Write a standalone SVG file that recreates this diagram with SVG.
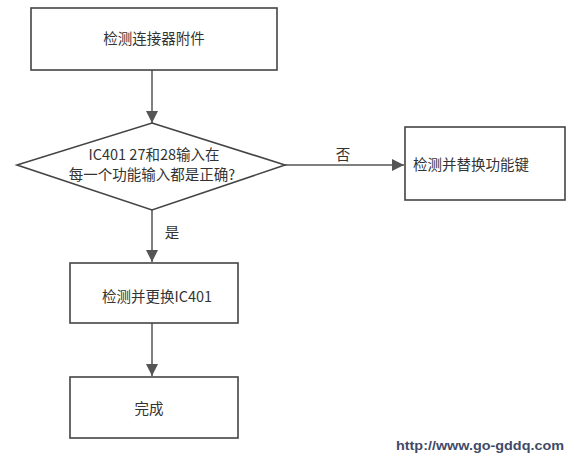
<svg xmlns="http://www.w3.org/2000/svg" width="574" height="460" viewBox="0 0 574 460">
<style>
.box{fill:#fff;stroke:#444;stroke-width:1.6}
.t{font-family:"Noto Sans CJK SC","Liberation Sans",sans-serif;font-size:14.5px;fill:#333}
.c{stroke:#555;stroke-width:1.5;fill:none}
.url{font-family:"Liberation Sans",sans-serif;font-size:13px;font-weight:bold;fill:#3f4a68}
</style>
<defs>
<marker id="ah2" viewBox="0 0 10 10" refX="10" refY="5" markerWidth="8" markerHeight="8" orient="auto"><path d="M0,0 L10,5 L0,10 z" fill="#555"/></marker>
</defs>
<rect width="574" height="460" fill="#fff"/>
<g id="connectors">
<path class="c" d="M152,70 V123" marker-end="url(#ah2)"/>
<path class="c" d="M285,165 H404" marker-end="url(#ah2)"/>
<path class="c" d="M152,210 V262" marker-end="url(#ah2)"/>
<path class="c" d="M152,323 V376" marker-end="url(#ah2)"/>
<text class="t" x="343" y="160" text-anchor="middle">否</text>
<text class="t" x="172" y="238" text-anchor="middle">是</text>
</g>
<g id="n1"><rect class="box" x="31" y="8" width="246" height="62"/><text class="t" x="154" y="44" text-anchor="middle">检测连接器附件</text></g>
<g id="n2"><polygon class="box" points="152,123 285,165 152,210 17,165"/><text class="t" x="154" y="160" text-anchor="middle">IC401 27和28输入在</text><text class="t" x="152" y="180" text-anchor="middle">每一个功能输入都是正确?</text></g>
<g id="n3"><rect class="box" x="405" y="127" width="160" height="73"/><text class="t" x="413" y="170">检测并替换功能键</text></g>
<g id="n4"><rect class="box" x="70" y="263" width="168" height="60"/><text class="t" x="157" y="302" text-anchor="middle">检测并更换IC401</text></g>
<g id="n5"><rect class="box" x="70" y="377" width="168" height="61"/><text class="t" x="149" y="414" text-anchor="middle">完成</text></g>
<text class="url" x="396" y="450" textLength="168" lengthAdjust="spacingAndGlyphs">http://www.go-gddq.com</text>
</svg>
